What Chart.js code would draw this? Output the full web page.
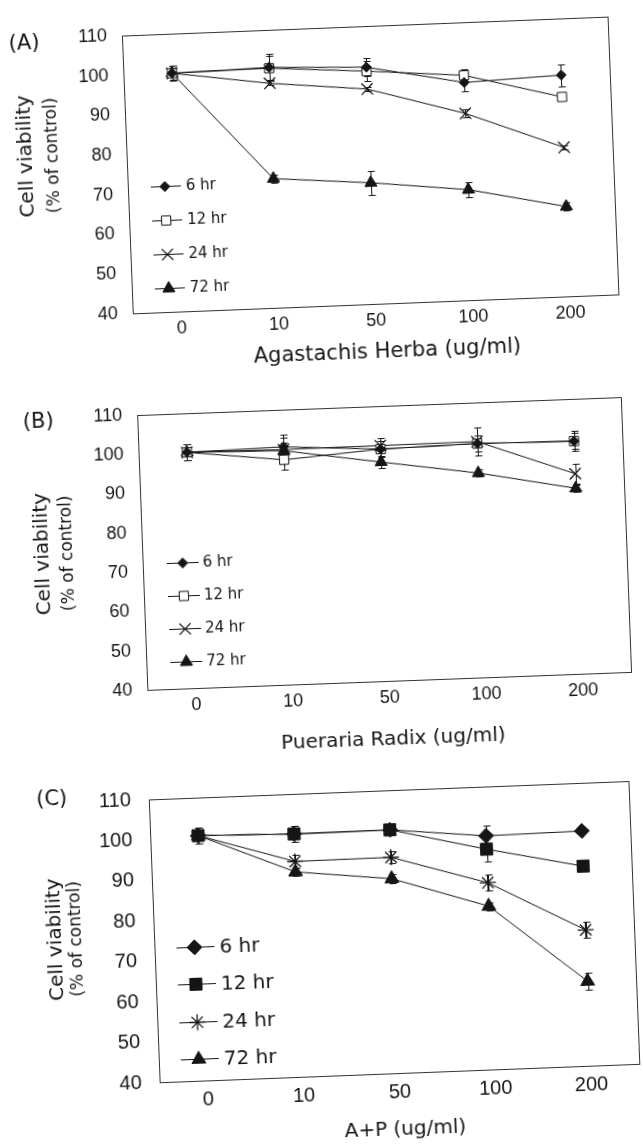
<!DOCTYPE html>
<html>
<head>
<meta charset="utf-8">
<script src="https://cdn.jsdelivr.net/npm/chart.js@4.4.1/dist/chart.umd.min.js"></script>
<style>
  html, body { margin: 0; padding: 0; background: #fff; overflow: hidden; }
  .panel { position: absolute; left: 0; width: 643px; }
  .panel canvas { display: block; }
</style>
</head>
<body>
<div class="panel" id="panel-a" style="top:0;height:380px"><canvas id="chart-a" width="643" height="380"></canvas></div>
<div class="panel" id="panel-b" style="top:380px;height:380px"><canvas id="chart-b" width="643" height="380"></canvas></div>
<div class="panel" id="panel-c" style="top:760px;height:384px"><canvas id="chart-c" width="643" height="384"></canvas></div>
<script>
// Shared axis data
const doses = ['0', '10', '50', '100', '200'];
const timeLabels = ['6 hr', '12 hr', '24 hr', '72 hr'];
const yMin = 40;
const yMax = 110;
const yStep = 10;
const yTitle = ['Cell viability', '(% of control)'];

// (A) Agastachis Herba
const agaTitle = 'Agastachis Herba (ug/ml)';
const aga6 = [100, 100.5, 99.6, 94.8, 95.7];
const aga12 = [100, 100.3, 98.6, 96.6, 90.2];
const aga24 = [100, 96.5, 94.1, 87.0, 77.5];
const aga72 = [100, 72.5, 70.5, 67.8, 62.6];
const agaErr6 = [2, 3.5, 2.2, 2.2, 2.8];
const agaErr12 = [2, 3, 2.5, 1.5, 1];
const agaErr24 = [2, 0.5, 0.5, 1, 0.5];
const agaErr72 = [1.5, 1, 3, 2, 1];

// (B) Pueraria Radix
const pueTitle = 'Pueraria Radix (ug/ml)';
const pue6 = [100, 100.5, 99.0, 99.5, 99.2];
const pue12 = [100, 97.2, 99.0, 99.5, 99.2];
const pue24 = [100, 99.8, 99.9, 100.0, 90.9];
const pue72 = [100, 99.5, 95.7, 92.0, 87.2];
const pueErr6 = [2, 3, 2, 2, 2];
const pueErr12 = [2, 2.5, 1, 1, 2.5];
const pueErr24 = [2, 3, 2, 3.5, 2.5];
const pueErr72 = [2, 2, 1.5, 1, 1];

// (C) A+P
const mixTitle = 'A+P (ug/ml)';
const mix6 = [100.6, 100.1, 100.2, 97.8, 98.1];
const mix12 = [100.6, 100.1, 100.2, 94.5, 89.4];
const mix24 = [100.6, 93.3, 93.4, 86.2, 73.6];
const mix72 = [100.6, 90.7, 88.1, 80.4, 60.9];
const mixErr6 = [2, 2, 1, 2.5, 0.5];
const mixErr12 = [2, 2, 1, 3, 0.5];
const mixErr24 = [1, 1.5, 1.5, 2, 2];
const mixErr72 = [1, 1, 1, 1, 2];

const ink = '#151515';

// error bars drawn under the markers
const errorBars = {
  id: 'errorBars',
  beforeDatasetsDraw(chart) {
    const ctx = chart.ctx;
    const y = chart.scales.y;
    ctx.save();
    ctx.strokeStyle = ink;
    ctx.lineWidth = 1;
    chart.data.datasets.forEach((ds, i) => {
      if (!ds.errors) return;
      chart.getDatasetMeta(i).data.forEach((pt, j) => {
        const e = ds.errors[j];
        if (!e) return;
        const top = Math.round(y.getPixelForValue(ds.data[j] + e)) + 0.5;
        const bot = Math.round(y.getPixelForValue(ds.data[j] - e)) + 0.5;
        const x = Math.round(pt.x) + 0.5;
        ctx.beginPath();
        ctx.moveTo(x, top); ctx.lineTo(x, bot);
        ctx.moveTo(x - 3, top); ctx.lineTo(x + 4, top);
        ctx.moveTo(x - 3, bot); ctx.lineTo(x + 4, bot);
        ctx.stroke();
      });
    });
    ctx.restore();
  }
};

// box, panel letter, axis titles and the in-plot legend
function makeDeco(cfg) {
  return {
    id: 'panelDeco',
    afterDraw(chart) {
      const ctx = chart.ctx;
      const a = chart.chartArea;
      ctx.save();
      ctx.strokeStyle = '#333';
      ctx.lineWidth = 1;
      ctx.strokeRect(Math.round(a.left) + 0.5, Math.round(a.top) + 0.5, Math.round(a.right - a.left), Math.round(a.bottom - a.top));

      ctx.fillStyle = ink;
      ctx.textAlign = 'center';
      ctx.textBaseline = 'middle';
      ctx.font = '21px "DejaVu Sans"';
      ctx.fillText(cfg.letter, a.left + cfg.letterX, a.top + cfg.letterY);

      ctx.font = cfg.xFont;
      ctx.fillText(cfg.xTitle, (a.left + a.right) / 2 + cfg.xTitleDx, a.bottom + cfg.xTitleDy);

      const cy = (a.top + a.bottom) / 2 + cfg.yTitleDy;
      ctx.save();
      ctx.translate(a.left + cfg.yLine1, cy);
      ctx.rotate(-Math.PI / 2);
      ctx.font = '20px "DejaVu Sans"';
      ctx.fillText(yTitle[0], 0, 0);
      ctx.restore();
      ctx.save();
      ctx.translate(a.left + cfg.yLine2, cy);
      ctx.rotate(-Math.PI / 2);
      ctx.font = '17px "DejaVu Sans"';
      ctx.fillText(yTitle[1], 0, 0);
      ctx.restore();

      // legend
      const lg = cfg.legend;
      chart.data.datasets.forEach((ds, i) => {
        const ry = Math.round(a.top + lg.top + i * lg.gap) + 0.5;
        ctx.strokeStyle = ink;
        ctx.lineWidth = 1;
        ctx.beginPath();
        ctx.moveTo(a.left + lg.x1, ry);
        ctx.lineTo(a.left + lg.x2, ry);
        ctx.stroke();
        ctx.fillStyle = ds.pointBackgroundColor;
        ctx.lineWidth = ds.pointBorderWidth;
        Chart.helpers.drawPoint(ctx, {
          pointStyle: ds.pointStyle,
          radius: ds.pointRadius,
          rotation: 0,
          borderWidth: ds.pointBorderWidth
        }, a.left + lg.mx, ry);
        ctx.fillStyle = ink;
        ctx.textAlign = 'left';
        ctx.font = lg.font;
        ctx.fillText(ds.label, a.left + lg.tx, ry + 1);
      });
      ctx.restore();
    }
  };
}

function makeSet(label, data, errors, style, radius, fill) {
  return {
    label: label,
    data: data,
    errors: errors,
    borderColor: ink,
    borderWidth: 1,
    tension: 0,
    pointStyle: style,
    pointRadius: radius,
    pointHoverRadius: radius,
    pointBackgroundColor: fill,
    pointBorderColor: ink,
    pointBorderWidth: style === 'crossRot' || style === 'star' ? 1.3 : 1
  };
}

function buildChart(id, box, ticksFont, datasets, deco) {
  const canvas = document.getElementById(id);
  const wrap = canvas.parentNode;
  wrap.style.transformOrigin = ((box.left + box.right) / 2) + 'px ' + ((box.top + box.bottom) / 2) + 'px';
  wrap.style.transform = 'rotate(' + box.angle + 'deg)';
  return new Chart(canvas.getContext('2d'), {
    type: 'line',
    data: { labels: doses, datasets: datasets },
    options: {
      responsive: false,
      animation: false,
      devicePixelRatio: 1,
      layout: { padding: { left: 0, top: box.top, right: canvas.width - box.right, bottom: 0 } },
      plugins: { legend: { display: false }, tooltip: { enabled: false } },
      scales: {
        y: {
          min: yMin,
          max: yMax,
          ticks: { stepSize: yStep, padding: box.yPad, color: ink, font: { family: 'Liberation Sans', size: ticksFont } },
          grid: { display: false, drawTicks: false },
          border: { display: false },
          afterFit(s) { s.width = box.left; }
        },
        x: {
          offset: true,
          ticks: { padding: box.xPad, color: ink, maxRotation: 0, font: { family: 'Liberation Sans', size: ticksFont } },
          grid: { display: false, drawTicks: false },
          border: { display: false },
          afterFit(s) { s.height = canvas.height - box.bottom; }
        }
      }
    },
    plugins: [errorBars, makeDeco(deco)]
  });
}

buildChart('chart-a',
  { left: 127, top: 18, right: 613, bottom: 304, angle: -2.24, yPad: 15, xPad: 6 },
  18,
  [
    makeSet(timeLabels[0], aga6, agaErr6, 'rectRot', 5, ink),
    makeSet(timeLabels[1], aga12, agaErr12, 'rect', 6.5, '#fff'),
    makeSet(timeLabels[2], aga24, agaErr24, 'crossRot', 8, ink),
    makeSet(timeLabels[3], aga72, agaErr72, 'triangle', 7, ink)
  ],
  { letter: '(A)', letterX: -98, letterY: 5, xTitle: agaTitle, xFont: '21px "DejaVu Sans"', xTitleDx: 10, xTitleDy: 49,
    yLine1: -100, yLine2: -73, yTitleDy: -22,
    legend: { top: 152, gap: 34, x1: 23, x2: 53, mx: 37, tx: 58, font: '15px "DejaVu Sans"' } }
);

buildChart('chart-b',
  { left: 142, top: 21, right: 626, bottom: 301, angle: -2.13, yPad: 15, xPad: 6 },
  18,
  [
    makeSet(timeLabels[0], pue6, pueErr6, 'rectRot', 5, ink),
    makeSet(timeLabels[1], pue12, pueErr12, 'rect', 6.5, '#fff'),
    makeSet(timeLabels[2], pue24, pueErr24, 'crossRot', 8, ink),
    makeSet(timeLabels[3], pue72, pueErr72, 'triangle', 7, ink)
  ],
  { letter: '(B)', letterX: -99, letterY: 4, xTitle: pueTitle, xFont: '20px "DejaVu Sans"', xTitleDx: 2, xTitleDy: 59,
    yLine1: -99, yLine2: -74, yTitleDy: -2,
    legend: { top: 149, gap: 33, x1: 24, x2: 56, mx: 40, tx: 60, font: '15px "DejaVu Sans"' } }
);

buildChart('chart-c',
  { left: 154, top: 28, right: 642, bottom: 313, angle: -2.2, yPad: 18, xPad: 7 },
  20,
  [
    makeSet(timeLabels[0], mix6, mixErr6, 'rectRot', 7.5, ink),
    makeSet(timeLabels[1], mix12, mixErr12, 'rect', 8.5, ink),
    makeSet(timeLabels[2], mix24, mixErr24, 'star', 8, ink),
    makeSet(timeLabels[3], mix72, mixErr72, 'triangle', 8, ink)
  ],
  { letter: '(C)', letterX: -97, letterY: -3, xTitle: mixTitle, xFont: '20px "DejaVu Sans"', xTitleDx: 4, xTitleDy: 57,
    yLine1: -98, yLine2: -77, yTitleDy: -5,
    legend: { top: 148.5, gap: 37.6, x1: 22, x2: 60, mx: 40, tx: 65, font: '20px "DejaVu Sans"' } }
);
</script>
</body>
</html>
